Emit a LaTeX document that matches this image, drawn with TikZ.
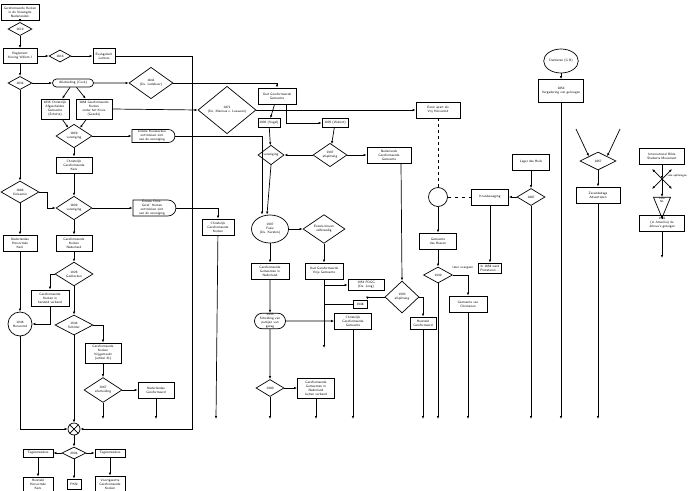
\documentclass[tikz,border=0pt]{standalone}
\usetikzlibrary{shapes.geometric,shapes.misc,arrows.meta}
\tikzset{
  every node/.style={font=\fontsize{3.3}{3.9}\selectfont\sffamily,align=center,inner sep=0.5pt},
  box/.style={draw,line width=0.7pt,minimum width=#1,minimum height=15pt},
  box/.default=36pt,
  dia/.style={draw,diamond,line width=0.7pt,minimum width=#1,minimum height=0.55*#1},
  dia/.default=36pt,
  halfround/.style={draw,rounded rectangle,rounded rectangle west arc=none,line width=0.7pt,minimum width=44pt,minimum height=13pt},
  pill/.style={draw,rounded rectangle,line width=0.7pt},
  ring/.style={draw,ellipse,line width=0.7pt},
  arr/.style={line width=0.7pt,-{Latex[length=3pt,width=2.4pt]}},
  ln/.style={line width=0.7pt},
}
\begin{document}
\begin{tikzpicture}[x=1pt,y=-1pt]
  \useasboundingbox (0,0) rectangle (690,490);

  % left column
  \node[box=38pt,minimum height=16pt] (top) at (20,12) {Gereformeerde Kerken\\in de Verenigde\\Nederlanden};
  \node[dia=24pt] (d1619) at (20,29) {1619};
  \node[box=34pt] (reg) at (20,56) {Reglement\\Koning Willem I};
  \node[dia=22pt] (d1816) at (60,56) {1816};
  \node[box=22pt] (luth) at (104,56) {Evangelisch\\Luthers};
  \node[dia=24pt] (d1834) at (20,83) {1834};
  \node[pill,minimum width=42pt,minimum height=8pt] (afsch) at (73,83) {Afscheiding (Cock)};
  \node[dia=44pt,minimum height=24pt] (d1841) at (151,83) {1841\\(Ds. Ledeboer)};
  \node[box=28pt,minimum height=20pt] (cag) at (55,109) {1836 Christelijk\\Afgescheiden\\Gemeente\\(Scholte)};
  \node[box=36pt,minimum height=20pt] (gkk) at (94,109) {1838 Gereformeerde\\Kerken\\onder het Kruis\\(Gezelle)};
  \node[dia=36pt,minimum height=20pt] (d1869) at (74,136) {1869\\vereniging};
  \node[halfround] (kruis) at (152,136) {Enkele Kruiskerken\\onttrokken zich\\aan de vereniging};
  \node[box=36pt,minimum height=16pt] (cgk) at (74,165) {Christelijk\\Gereformeerde\\Kerk};
  \node[dia=38pt,minimum height=20pt] (d1886) at (20,192) {1886\\Doleantie};
  \node[dia=36pt,minimum height=20pt] (d1892) at (74,208) {1892\\vereniging};
  \node[halfround,minimum height=16pt] (encg) at (152,208) {Enkele Chris.\\Geref. Kerken\\onttrokken zich\\aan de vereniging};
  \node[box=32pt,minimum height=16pt] (cgk2) at (218,227) {Christelijk\\Gereformeerde\\Kerken};
  \node[box=34pt,minimum height=16pt] (nhk) at (20,243) {Nederlandse\\Hervormde\\Kerk};
  \node[box=36pt,minimum height=16pt] (gkn) at (74,243) {Gereformeerde\\Kerken\\Nederland};
  \node[dia=38pt,minimum height=20pt] (d1926) at (74,274) {1926\\Geelkerken};
  \node[box=38pt,minimum height=16pt] (ghv) at (50,298) {Gereformeerde\\Kerken in\\hersteld verband};
  \node[ring,minimum width=24pt,minimum height=24pt] (c1946) at (20,324) {1946\\Hervormd};
  \node[dia=38pt,minimum height=20pt] (d1944) at (74,325) {1944\\Schilder};
  \node[box=36pt,minimum height=20pt] (gkv) at (103,353) {Gereformeerde\\Kerken\\Vrijgemaakt\\(artikel 31)};
  \node[dia=38pt,minimum height=20pt] (d1967) at (103,390) {1967\\afscheiding};
  \node[box=36pt,minimum height=16pt] (ngk) at (156,390) {Nederlandse\\Gereformeerd};
  \node[draw,circle,line width=0.7pt,minimum size=12pt,inner sep=0pt] (merge) at (74,429) {};
  \draw[ln] (merge.north west) -- (merge.south east) (merge.north east) -- (merge.south west);
  \node[dia=24pt,minimum height=12pt] (d2004) at (74,453) {2004};
  \node[box=30pt,minimum height=8pt] (teg1) at (38,453) {Tegenstanders};
  \node[box=30pt,minimum height=8pt] (teg2) at (110,453) {Tegenstanders};
  \node[box=30pt,minimum height=14pt] (hhk) at (38,484) {Hersteld\\Hervormde\\Kerk};
  \node[box=14pt,minimum height=10pt] (pkn) at (74,484) {PKN};
  \node[box=30pt,minimum height=16pt] (vgk) at (110,484) {Voortgezette\\Gereformeerde\\Kerken};

  % middle column
  \node[box=38pt,minimum height=16pt] (oudgg) at (277,96) {Oud Gereformeerde\\Gemeente};
  \node[dia=58pt,minimum height=32pt] (d1871) at (227,110) {1871\\(Ds. Marinus v. Leeuwen)};
  \node[box=22pt,minimum height=9pt] (v1900) at (269,123) {1900 (Vogel)};
  \node[box=26pt,minimum height=9pt] (w1905) at (335,123) {1905 (Wallert)};
  \node[dia=26pt,minimum height=18pt] (dver) at (271,155) {vereniging};
  \node[dia=34pt,minimum height=22pt] (d1907a) at (330,155) {1907\\afsplitsing};
  \node[box=44pt,minimum height=16pt] (ngg) at (389,155) {Nederlands\\Gereformeerde\\Gemeente};
  \node[ring,minimum width=37pt,minimum height=28pt] (fusie) at (270,229) {1907\\Fusie\\(Ds. Kersten)};
  \node[dia=42pt,minimum height=24pt] (enkele) at (324,229) {Enkele bleven\\zelfstandig};
  \node[box=38pt,minimum height=16pt] (ggn) at (270,271) {Gereformeerde\\Gemeenten in\\Nederland};
  \node[box=38pt,minimum height=16pt] (ogvg) at (324,271) {Oud Gereformeerde\\Vrije Gemeente};
  \node[box=36pt,minimum height=11pt] (v1953) at (366,285) {1953 FOGG\\(Ds. Jong)};
  \node[box=14pt,minimum height=8pt] (v1948) at (360,304) {1948};
  \node[dia=34pt,minimum height=32pt] (d1993) at (402,297) {1993\\afsplitsing};
  \node[box=26pt,minimum height=12pt] (herst) at (423,323) {Hersteld\\Gereformeerd};
  \node[pill,minimum width=32pt,minimum height=15pt] (schei) at (270,321) {1953\\Scheiding van\\partijen van\\gezag};
  \node[box=37pt,minimum height=16pt] (cgg) at (353,321) {Christelijk\\Gereformeerde\\Gemeente};
  \node[dia=28pt,minimum height=17pt] (d1980) at (270,388) {1980};
  \node[box=37pt,minimum height=20pt] (ggnbv) at (316,388) {Gereformeerde\\Gemeenten in\\Nederland\\buiten verband};

  % right columns
  \node[box=44pt,minimum height=16pt] (eerst) at (438,110) {Eerst apart als\\Vrij Hervormd};
  \node[draw,circle,line width=0.7pt,minimum size=19pt] (circd) at (438,197) {};
  \node[box=37pt,minimum height=16pt] (kruisb) at (490,197) {Kruisbeweging};
  \node[box=37pt,minimum height=16pt] (leger) at (531,162) {Leger des Heils};
  \node[dia=28pt,minimum height=17pt] (d1887) at (531,197) {1887};
  \node[draw,line width=0.7pt,minimum width=23pt,minimum height=10pt] (doc) at (490,268) {In 1858 werd\\Pinksteren ...};
  \node[box=37pt,minimum height=16pt] (gdh) at (438,241) {Gemeente\\des Heeren};
  \node[dia=29pt,minimum height=16pt] (d1949) at (438,275) {1949};
  \node[anchor=west] (later) at (452,268) {later overgaat};
  \node[box=38pt,minimum height=16pt] (gvc) at (468,304) {Gemeente van\\Christenen};
  \node[ring,minimum width=29pt,minimum height=24pt] (darb) at (561,61) {Darbisten (G.B)};
  \node[box=45pt,minimum height=23pt] (s1854) at (561,91) {1854\\Vergadering van gelovigen};
  \coordinate (in1) at (576,129);
  \coordinate (in2) at (620,129);
  \node[dia=36pt,minimum height=18pt] (d1867) at (598,161) {1867};
  \node[box=44pt,minimum height=16pt] (zda) at (598,195) {Zevendedags\\Adventisten};
  \node[box=45pt,minimum height=16pt] (ibsm) at (662,156) {International Bible\\Students Movement};
  \coordinate (cross) at (662,179);
  \node[anchor=west,font=\fontsize{2.9}{3.4}\selectfont\sffamily] (vele) at (667,176) {vele splitsingen};
  \node[draw,isosceles triangle,shape border rotate=-90,line width=0.7pt,minimum width=17pt,minimum height=16pt,inner sep=0pt] (tri) at (662,203) {};
  \node[font=\fontsize{2.8}{3.2}\selectfont\sffamily] at (662,200) {1931\\NL};
  \node[box=45pt,minimum height=16pt] (jg) at (662,223) {1931\\(in Amerika) de\\Jehova's getuigen};

  % bottom ends
  \foreach \name/\x in {e1/103,e2/156,e3/216,e4/270,e5/316,e6/353,e7/423,e8/438,e9/468,e10/531,e11/561,e12/598}
    \coordinate (\name) at (\x,419);
  \coordinate (e13) at (324,348);
  \coordinate (e14) at (662,258);
  \coordinate (mR) at (192,429);

  % connectors, left
  \draw[arr] (top) -- (d1619);
  \draw[arr] (d1619) -- (reg);
  \draw[arr] (reg) -- (d1816);
  \draw[arr] (d1816) -- (luth);
  \draw[arr] (reg) -- (d1834);
  \draw[arr] (d1834) -- (afsch);
  \draw[arr] (afsch) -- (d1841);
  \draw[arr] (afsch) -- (cag);
  \draw[arr] (afsch) -- (gkk);
  \draw[arr] (cag) -- (d1869);
  \draw[arr] (gkk) -- (d1869);
  \draw[arr] (d1869) -- (kruis);
  \draw[arr] (d1869) -- (cgk);
  \draw[arr] (cgk) -- (d1892);
  \draw[arr] (d1834) -- (d1886);
  \draw[arr] (d1886.east) -- ++(8,0) |- (d1892.west);
  \draw[arr] (d1892) -- (encg);
  \draw[arr] (encg.east) -| (cgk2.north);
  \draw[arr] (d1892) -- (gkn);
  \draw[arr] (gkn) -- (d1926);
  \draw[arr] (d1926.west) -| (ghv.north);
  \draw[arr] (ghv.south) |- (c1946.east);
  \draw[arr] (d1886) -- (nhk);
  \draw[arr] (nhk) -- (c1946);
  \draw[arr] (c1946.south) |- (merge.west);
  \draw[arr] (d1926) -- (d1944);
  \draw[arr] (d1944) -- (merge);
  \draw[arr] (d1944.east) -| (gkv.north);
  \draw[arr] (gkv) -- (d1967);
  \draw[arr] (d1967) -- (ngk);
  \draw[arr] (d1967) -- (e1);
  \draw[arr] (ngk) -- (e2);
  \draw[arr] (cgk2) -- (e3);
  \draw[arr] (luth.east) -| (mR) -- (merge.east);
  \draw[arr] (merge) -- (d2004);
  \draw[arr] (d2004) -- (teg1);
  \draw[arr] (d2004) -- (teg2);
  \draw[arr] (d2004) -- (pkn);
  \draw[arr] (teg1) -- (hhk);
  \draw[arr] (teg2) -- (vgk);

  % connectors, middle
  \draw[arr] (d1841.east) -| (oudgg.north);
  \draw[arr] (gkk.east) -- (d1871.west);
  \draw[arr] (d1871.east) -- (eerst.west);
  \draw[arr] (oudgg) -- (v1900);
  \draw[arr] ([xshift=9pt]oudgg.south) |- (w1905.west);
  \draw[arr] (v1900) -- (dver);
  \draw[arr] (w1905) -- (d1907a);
  \draw[arr] (d1907a) -- (dver);
  \draw[arr] (d1907a) -- (ngg);
  \draw[arr] (dver.south) -- ([xshift=-3pt]fusie.north);
  \draw[arr] (kruis.east) -| ([xshift=-8pt]fusie.north);
  \draw[arr] (fusie) -- (enkele);
  \draw[arr] (fusie) -- (ggn);
  \draw[arr] (enkele) -- (ogvg);
  \draw[arr] (ogvg) -- (e13);
  \draw[arr] (ogvg.south |- v1953.west) -- (v1953.west);
  \draw[ln] (v1948.west) -- (ogvg.south |- v1948.west);
  \draw[arr] (d1993.west) -| (v1948.north east);
  \draw[arr] ([xshift=12pt]ngg.south) -- (d1993.north);
  \draw[arr] (d1993.east) -| (herst.north);
  \draw[arr] (ggn) -- (schei);
  \draw[arr] (schei) -- (cgg);
  \draw[arr] (schei) -- (d1980);
  \draw[arr] (d1980) -- (ggnbv);
  \draw[arr] (d1980) -- (e4);
  \draw[arr] (ggnbv) -- (e5);
  \draw[arr] (cgg) -- (e6);
  \draw[arr] (herst) -- (e7);

  % connectors, right
  \draw[ln,dashed,dash pattern=on 3pt off 3pt] (eerst) -- (circd);
  \draw[ln,dashed,dash pattern=on 3pt off 4pt] (circd) -- (kruisb);
  \draw[arr] (leger) -- (d1887);
  \draw[arr] (d1887) -- (kruisb);
  \draw[arr] (d1887) -- (e10);
  \draw[arr] (kruisb) -- (doc);
  \draw[arr] (circd) -- (gdh);
  \draw[arr] (gdh) -- (d1949);
  \draw[arr] (d1949) -- (e8);
  \draw[arr] (d1949.east) -| (gvc.north);
  \draw[arr] (gvc) -- (e9);
  \draw[arr] (darb) -- (s1854);
  \draw[arr] (s1854) -- (e11);
  \draw[arr] (in1) -- (d1867.north west);
  \draw[arr] (in2) -- (d1867.north east);
  \draw[arr] (d1867) -- (zda);
  \draw[arr] (zda) -- (e12);
  \draw[arr] (ibsm) -- (cross);
  \draw[line width=0.7pt,{Latex[length=3pt,width=2.4pt]}-{Latex[length=3pt,width=2.4pt]}] (652,169) -- (672,189);
  \draw[line width=0.7pt,{Latex[length=3pt,width=2.4pt]}-{Latex[length=3pt,width=2.4pt]}] (672,169) -- (652,189);
  \draw[arr] (cross) -- (tri);
  \draw[arr] (tri) -- (jg);
  \draw[arr] (jg) -- (e14);
\end{tikzpicture}
\end{document}
